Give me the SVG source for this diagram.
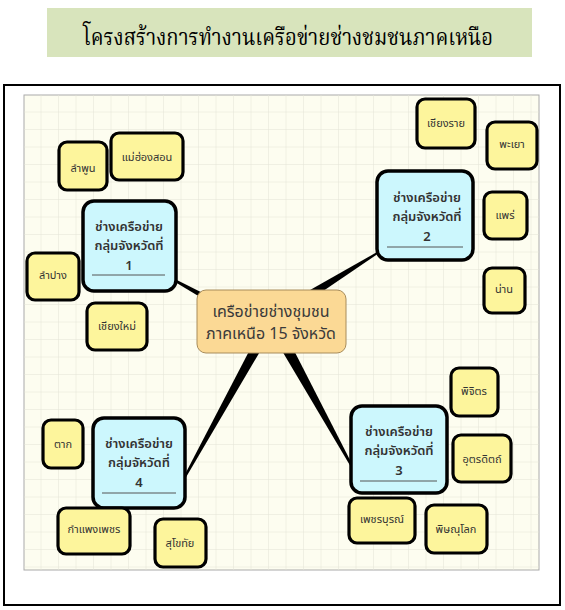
<svg xmlns="http://www.w3.org/2000/svg" width="565" height="610" viewBox="0 0 565 610">
<defs>
<pattern id="grid" x="24" y="95" width="17.5" height="17.5" patternUnits="userSpaceOnUse">
<path d="M17.5 0V17.5M0 17.5H17.5" fill="none" stroke="#e4e4d6" stroke-width="1"/>
</pattern>
<style>
.leaf rect{fill:#fdf59c;stroke:#000;stroke-width:3.2}
.leaf text{font-family:"Noto Sans Thai","Noto Sans","DejaVu Sans",sans-serif;font-size:11px;fill:#333;text-anchor:middle}
.grp rect{fill:#ccf7fd;stroke:#000;stroke-width:3.5}
.grp text{font-family:"Noto Sans Thai","Noto Sans","DejaVu Sans",sans-serif;font-size:13px;fill:#333;text-anchor:middle;font-weight:600}
.grp line{stroke:#555;stroke-width:1}
.conn polygon{fill:#000}
</style>
</defs>
<rect x="0" y="0" width="565" height="610" fill="#fff"/>
<g id="title">
<rect x="47" y="8" width="485" height="49" fill="#d8e4bc"/>
<text x="288" y="45" font-family="'Noto Serif Thai','Liberation Serif',serif" font-size="23" text-anchor="middle" fill="#000" textLength="410" lengthAdjust="spacingAndGlyphs">โครงสร้างการทำงานเครือข่ายช่างชมชนภาคเหนือ</text>
</g>
<rect x="4" y="85" width="556" height="520" fill="#fff" stroke="#000" stroke-width="2"/>
<rect x="24" y="95" width="515" height="475" fill="#fdfdf0" stroke="#aaa" stroke-width="1"/>
<rect x="24" y="95" width="515" height="475" fill="url(#grid)"/>
<g id="connectors" class="conn">
<polygon points="165.4,274.3 164.6,275.7 203.8,299.2 206.2,294.8"/>
<polygon points="386.7,246.6 387.3,247.4 307.4,301.8 302.6,294.2"/>
<polygon points="359.4,481.3 360.6,480.7 289.8,342.3 280.2,347.7"/>
<polygon points="175.4,492.7 176.6,493.3 262.4,347.4 253.6,342.6"/>
</g>
<g id="center">
<rect x="197" y="290" width="149" height="63" rx="9" fill="#fbd995" stroke="#a88c5a" stroke-width="1"/>
<text x="271" y="317" font-family="'Noto Sans Thai','Noto Sans','DejaVu Sans',sans-serif" font-size="16" fill="#3a3a3a" text-anchor="middle">เครือข่ายช่างชุมชน</text>
<text x="271" y="339" font-family="'Noto Sans Thai','Noto Sans','DejaVu Sans',sans-serif" font-size="16" fill="#3a3a3a" text-anchor="middle">ภาคเหนือ 15 จังหวัด</text>
</g>
<g id="group1" class="grp">
<rect x="83" y="201" width="93" height="90" rx="11"/>
<text x="129" y="231">ช่างเครือข่าย</text>
<text x="129" y="250">กลุ่มจังหวัดที่</text>
<text x="129" y="270">1</text>
<line x1="92" y1="275" x2="165" y2="275"/>
</g>
<g id="group2" class="grp">
<rect x="377" y="171" width="96" height="89" rx="11"/>
<text x="427" y="202">ช่างเครือข่าย</text>
<text x="427" y="221">กลุ่มจังหวัดที่</text>
<text x="427" y="241">2</text>
<line x1="387" y1="247" x2="463" y2="247"/>
</g>
<g id="group3" class="grp">
<rect x="351" y="406" width="96" height="87" rx="11"/>
<text x="399" y="436">ช่างเครือข่าย</text>
<text x="399" y="455">กลุ่มจังหวัดที่</text>
<text x="399" y="475">3</text>
<line x1="360" y1="481" x2="437" y2="481"/>
</g>
<g id="group4" class="grp">
<rect x="93" y="418" width="92" height="90" rx="11"/>
<text x="139" y="448">ช่างเครือข่าย</text>
<text x="139" y="467">กลุ่มจัหวัดที่</text>
<text x="139" y="487">4</text>
<line x1="102" y1="493" x2="176" y2="493"/>
</g>
<g id="lamphun" class="leaf"><rect x="59" y="142" width="48" height="48" rx="8"/><text x="83" y="172">ลำพูน</text></g>
<g id="maehongson" class="leaf"><rect x="111" y="133" width="72" height="47" rx="8"/><text x="147" y="161">แม่ฮ่องสอน</text></g>
<g id="lampang" class="leaf"><rect x="27" y="253" width="52" height="47" rx="8"/><text x="53" y="279">ลำปาง</text></g>
<g id="chiangmai" class="leaf"><rect x="87" y="303" width="60" height="47" rx="8"/><text x="117" y="330">เชียงใหม่</text></g>
<g id="tak" class="leaf"><rect x="43" y="420" width="40" height="48" rx="8"/><text x="63" y="448">ตาก</text></g>
<g id="kamphaengphet" class="leaf"><rect x="58" y="508" width="72" height="46" rx="8"/><text x="94" y="533">กำแพงเพชร</text></g>
<g id="sukhothai" class="leaf"><rect x="155" y="519" width="51" height="48" rx="8"/><text x="180" y="547">สุโขทัย</text></g>
<g id="chiangrai" class="leaf"><rect x="417" y="99" width="58" height="49" rx="8"/><text x="446" y="127">เชียงราย</text></g>
<g id="phayao" class="leaf"><rect x="487" y="122" width="50" height="47" rx="8"/><text x="512" y="148">พะเยา</text></g>
<g id="phrae" class="leaf"><rect x="484" y="192" width="43" height="47" rx="8"/><text x="505" y="219">แพร่</text></g>
<g id="nan" class="leaf"><rect x="484" y="268" width="41" height="45" rx="8"/><text x="504" y="293">น่าน</text></g>
<g id="phichit" class="leaf"><rect x="451" y="368" width="47" height="48" rx="8"/><text x="474" y="395">พิจิตร</text></g>
<g id="uttaradit" class="leaf"><rect x="453" y="435" width="58" height="47" rx="8"/><text x="482" y="463">อุตรดิตถ์</text></g>
<g id="phetchabun" class="leaf"><rect x="349" y="498" width="66" height="45" rx="8"/><text x="382" y="523">เพชรบุรณ์</text></g>
<g id="phitsanulok" class="leaf"><rect x="426" y="505" width="61" height="48" rx="8"/><text x="456" y="533">พิษณุโลก</text></g>
</svg>
